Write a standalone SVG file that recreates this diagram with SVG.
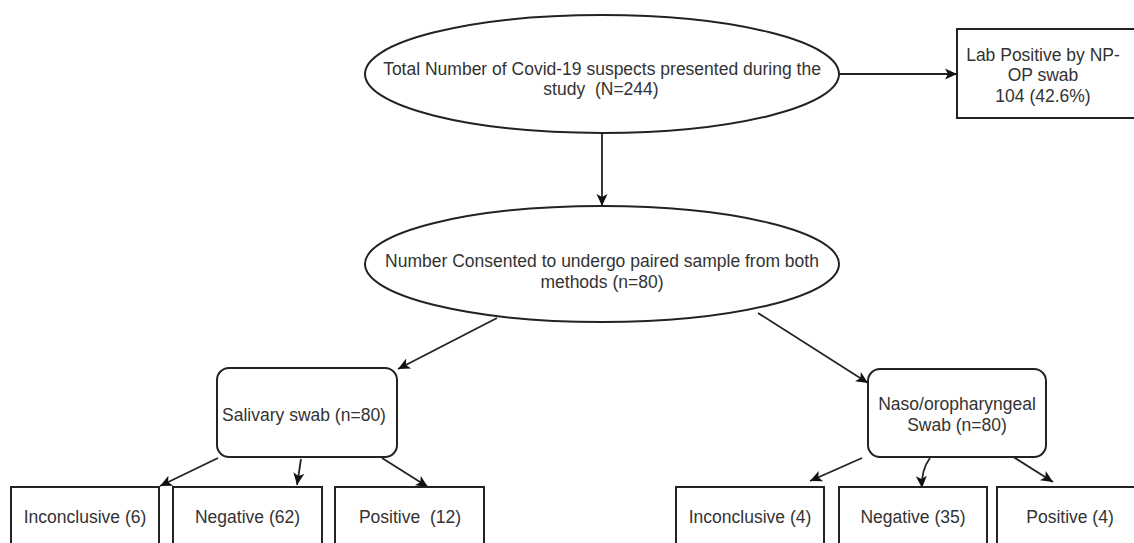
<svg xmlns="http://www.w3.org/2000/svg" width="1134" height="543" viewBox="0 0 1134 543">
<style>
.shape{fill:#fff;stroke:#222;stroke-width:2}
.t{font-family:"Liberation Sans",Arial,sans-serif;font-size:17.5px;fill:#333;text-anchor:middle;white-space:pre}
.c{fill:none;stroke:#222;stroke-width:1.8}
</style>
<defs>
<marker id="ah" markerUnits="userSpaceOnUse" markerWidth="14" markerHeight="14" viewBox="0 0 14 14" refX="12" refY="7" orient="auto">
<path d="M0,1.5 L12,7 L0,12.5 L3,7 Z" fill="#111"/>
</marker>
</defs>
<rect width="1134" height="543" fill="#fff"/>
<g id="connectors">
<path class="c" d="M839,74 L957,74" marker-end="url(#ah)"/>
<path class="c" d="M602,133 L602,206" marker-end="url(#ah)"/>
<path class="c" d="M497,318 L398,369" marker-end="url(#ah)"/>
<path class="c" d="M758,313 L868,383" marker-end="url(#ah)"/>
<path class="c" d="M218,458 L160,486" marker-end="url(#ah)"/>
<path class="c" d="M301,459 L297,485" marker-end="url(#ah)"/>
<path class="c" d="M382,458 L428,487" marker-end="url(#ah)"/>
<path class="c" d="M862,458 L810,481" marker-end="url(#ah)"/>
<path class="c" d="M930,458 Q921,470 922,488" marker-end="url(#ah)"/>
<path class="c" d="M1007,453 L1053,482" marker-end="url(#ah)"/>
</g>
<g id="total">
<ellipse class="shape" cx="602" cy="74" rx="237" ry="59"/>
<text class="t" x="602" y="75">Total Number of Covid-19 suspects presented during the</text>
<text class="t" x="601" y="95">study  (N=244)</text>
</g>
<g id="labpositive">
<rect class="shape" x="957" y="29" width="190" height="89"/>
<text class="t" x="1043" y="61">Lab Positive by NP-</text>
<text class="t" x="1043" y="81">OP swab</text>
<text class="t" x="1043" y="102">104 (42.6%)</text>
</g>
<g id="consented">
<ellipse class="shape" cx="602" cy="264" rx="237" ry="58"/>
<text class="t" x="602" y="267">Number Consented to undergo paired sample from both</text>
<text class="t" x="602" y="288">methods (n=80)</text>
</g>
<g id="salivary">
<rect class="shape" x="217" y="368" width="180" height="89" rx="12"/>
<text class="t" x="304" y="421">Salivary swab (n=80)</text>
</g>
<g id="naso">
<rect class="shape" x="868" y="369" width="178" height="88" rx="12"/>
<text class="t" x="957" y="410">Naso/oropharyngeal</text>
<text class="t" x="957" y="431">Swab (n=80)</text>
</g>
<g id="sal-inconclusive">
<rect class="shape" x="11" y="487" width="148" height="80"/>
<text class="t" x="85" y="523">Inconclusive (6)</text>
</g>
<g id="sal-negative">
<rect class="shape" x="173" y="487" width="149" height="80"/>
<text class="t" x="247.5" y="523">Negative (62)</text>
</g>
<g id="sal-positive">
<rect class="shape" x="335" y="487" width="149" height="80"/>
<text class="t" x="410" y="523">Positive  (12)</text>
</g>
<g id="np-inconclusive">
<rect class="shape" x="676" y="487" width="148" height="80"/>
<text class="t" x="750" y="523">Inconclusive (4)</text>
</g>
<g id="np-negative">
<rect class="shape" x="839" y="487" width="148" height="80"/>
<text class="t" x="913" y="523">Negative (35)</text>
</g>
<g id="np-positive">
<rect class="shape" x="997" y="487" width="150" height="80"/>
<text class="t" x="1070" y="523">Positive (4)</text>
</g>
</svg>
